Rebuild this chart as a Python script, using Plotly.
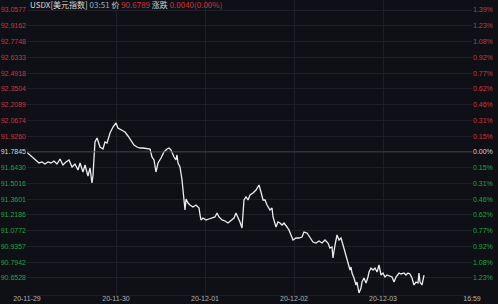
import plotly.graph_objects as go

# ---- data (fractional day offset from 20-11-29, USDX value) ----
day_offset = [0.000, 0.034, 0.067, 0.101, 0.135, 0.169, 0.202, 0.236, 0.270, 0.303,
              0.337, 0.371, 0.404, 0.438, 0.472, 0.506, 0.539, 0.573, 0.596, 0.629,
              0.652, 0.685, 0.708, 0.730, 0.742, 0.753, 0.764, 0.787, 0.820, 0.854,
              0.876, 0.899, 0.933, 0.966, 1.000, 1.022, 1.056, 1.101, 1.135, 1.169,
              1.202, 1.236, 1.270, 1.303, 1.348, 1.382, 1.404, 1.427, 1.449, 1.472,
              1.506, 1.539, 1.573, 1.596, 1.618, 1.629, 1.652, 1.674, 1.685, 1.697,
              1.719, 1.742, 1.753, 1.764, 1.775, 1.787, 1.809, 1.831, 1.865, 1.899,
              1.933, 1.944, 1.955, 1.978, 2.011, 2.045, 2.079, 2.112, 2.135, 2.157,
              2.191, 2.225, 2.258, 2.292, 2.326, 2.348, 2.371, 2.393, 2.416, 2.427,
              2.438, 2.461, 2.483, 2.506, 2.539, 2.573, 2.607, 2.629, 2.652, 2.674,
              2.697, 2.730, 2.753, 2.764, 2.787, 2.798, 2.820, 2.843, 2.865, 2.888,
              2.921, 2.944, 2.966, 2.989, 3.022, 3.056, 3.090, 3.112, 3.146, 3.180,
              3.213, 3.247, 3.281, 3.315, 3.348, 3.382, 3.404, 3.427, 3.438, 3.461,
              3.483, 3.506, 3.528, 3.551, 3.573, 3.596, 3.618, 3.629, 3.640, 3.652,
              3.674, 3.697, 3.708, 3.719, 3.730, 3.753, 3.764, 3.787, 3.809, 3.831,
              3.843, 3.865, 3.888, 3.910, 3.933, 3.955, 3.978, 4.000, 4.022, 4.045,
              4.067, 4.101, 4.124, 4.146, 4.180, 4.202, 4.236, 4.258, 4.281, 4.303,
              4.326, 4.337, 4.348, 4.371, 4.393, 4.404, 4.416, 4.438, 4.449, 4.461]

usdx = [91.7800, 91.7565, 91.7296, 91.7027, 91.6848, 91.6937, 91.6758, 91.6937, 91.6848, 91.7027,
        91.6758, 91.7207, 91.6668, 91.6937, 91.7117, 91.6489, 91.6758, 91.6219, 91.6848, 91.6040,
        91.6668, 91.5681, 91.6399, 91.5053, 91.5771, 91.7296, 91.8732, 91.9091, 91.8283, 91.8104,
        91.8732, 91.8642, 91.9539, 92.0078, 92.0437, 91.9988, 91.9809, 91.9629, 91.9270, 91.8822,
        91.8463, 91.8283, 91.8193, 91.8193, 91.8104, 91.8104, 91.7386, 91.7117, 91.6040, 91.6848,
        91.7296, 91.7834, 91.8104, 91.8193, 91.8014, 91.7745, 91.7386, 91.7117, 91.7565, 91.6848,
        91.6489, 91.5322, 91.4424, 91.3527, 91.2630, 91.3617, 91.3258, 91.3078, 91.2899, 91.3078,
        91.2809, 91.2181, 91.1733, 91.1912, 91.1733, 91.1822, 91.1912, 91.2002, 91.2361, 91.2002,
        91.1733, 91.1643, 91.1463, 91.1733, 91.1912, 91.2361, 91.2002, 91.1553, 91.1015, 91.2002,
        91.3527, 91.3796, 91.3527, 91.3976, 91.4155, 91.4424, 91.4873, 91.4245, 91.3527, 91.3527,
        91.3078, 91.2630, 91.2809, 91.2002, 91.1463, 91.1105, 91.1553, 91.1463, 91.1284, 91.1463,
        91.1105, 91.0834, 91.0386, 90.9937, 91.0117, 91.0117, 91.0206, 91.0655, 91.0565, 91.0206,
        90.9758, 90.9668, 90.9848, 90.9668, 90.9937, 90.9668, 90.9219, 90.9309, 90.8322, 90.9489,
        91.0386, 90.9937, 91.0117, 90.9489, 90.8861, 90.8143, 90.7605, 90.7246, 90.7515, 90.6977,
        90.6527, 90.5899, 90.6168, 90.5630, 90.5181, 90.5630, 90.6168, 90.6527, 90.6078, 90.6618,
        90.7066, 90.7425, 90.7246, 90.7425, 90.7066, 90.7694, 90.6797, 90.6977, 90.6618, 90.6797,
        90.6707, 90.6618, 90.6168, 90.6618, 90.6977, 90.6887, 90.6977, 90.6797, 90.6977, 90.6887,
        90.6527, 90.6168, 90.5899, 90.6168, 90.6078, 90.6977, 90.6168, 90.5899, 90.6348, 90.6789]

price_ticks = [93.0577, 92.9162, 92.7748, 92.6333, 92.4918, 92.3504, 92.2089, 92.0674, 91.9260,
               91.7845, 91.6430, 91.5016, 91.3601, 91.2186, 91.0772, 90.9357, 90.7942, 90.6528]
pct_labels = ["1.39%", "1.23%", "1.08%", "0.92%", "0.77%", "0.62%", "0.46%", "0.31%", "0.15%",
              "0.00%", "0.15%", "0.31%", "0.46%", "0.62%", "0.77%", "0.92%", "1.08%", "1.23%"]
x_tick_vals = [0, 1, 2, 3, 4, 5]
x_tick_labels = ["20-11-29", "20-11-30", "20-12-01", "20-12-02", "20-12-03", "16:59"]
prev_close = 91.7845

RED = "#d0353f"
GREEN = "#25a345"
NEUTRAL = "#d6d6d6"
BG = "#0e1016"
GRID = "#1d2027"


def colored(text, v):
    c = RED if v > prev_close + 1e-6 else (GREEN if v < prev_close - 1e-6 else NEUTRAL)
    return f"<span style='color:{c}'>{text}</span>"


left_text = [colored(f"{v:.4f}", v) for v in price_ticks]
right_text = [colored(t, v) for t, v in zip(pct_labels, price_ticks)]

yr = [90.5002, 93.1474]

fig = go.Figure()
fig.add_trace(go.Scatter(x=day_offset, y=usdx, mode="lines",
                         line=dict(color="#ececec", width=1.3),
                         hoverinfo="skip", showlegend=False))
fig.add_trace(go.Scatter(x=day_offset, y=usdx, mode="lines", yaxis="y2",
                         line=dict(color="rgba(0,0,0,0)", width=0),
                         hoverinfo="skip", showlegend=False))

fig.add_shape(type="line", xref="paper", x0=0, x1=1, yref="y", y0=prev_close, y1=prev_close,
              line=dict(color="#3d4047", width=1))

fig.update_layout(
    width=498, height=304,
    margin=dict(l=27, r=26, t=0, b=9),
    paper_bgcolor=BG, plot_bgcolor=BG,
    font=dict(family="Arial, Liberation Sans, sans-serif", size=7, color="#b8b8b8"),
    xaxis=dict(range=[0, 5], tickvals=x_tick_vals, ticktext=x_tick_labels,
               showgrid=True, gridcolor=GRID, gridwidth=1, zeroline=False,
               showline=True, linecolor=GRID, mirror=True, ticks="",
               tickfont=dict(size=7, color="#b4b4b4"), ticklabelstandoff=-3),
    yaxis=dict(range=yr, tickvals=price_ticks, ticktext=left_text,
               showgrid=True, gridcolor=GRID, gridwidth=1, zeroline=False,
               showline=False, ticks="", tickfont=dict(size=7), ticklabelstandoff=0),
    yaxis2=dict(range=yr, tickvals=price_ticks, ticktext=right_text, overlaying="y",
                side="right", showgrid=False, zeroline=False, showline=False, ticks="",
                tickfont=dict(size=7), ticklabelstandoff=0),
)

header_parts = [
    ("USDX[美元指数]", "#d8d8d8"),
    ("03:51", "#8fb3cf"),
    ("价", "#d0d0d0"),
    ("90.6789", RED),
    ("涨跌", "#d0d0d0"),
    ("0.0040(0.00%)", RED),
]
header_html = "&nbsp;".join(f"<span style='color:{c}'>{t}</span>" for t, c in header_parts)
fig.add_annotation(text=header_html, xref="paper", yref="paper",
                   x=(28 - 27) / 445, y=(295 - 5) / 295,
                   xanchor="left", yanchor="middle", showarrow=False,
                   font=dict(family="Noto Sans CJK SC, Arial", size=8, color="#d8d8d8"))

fig.write_html("out.html")
